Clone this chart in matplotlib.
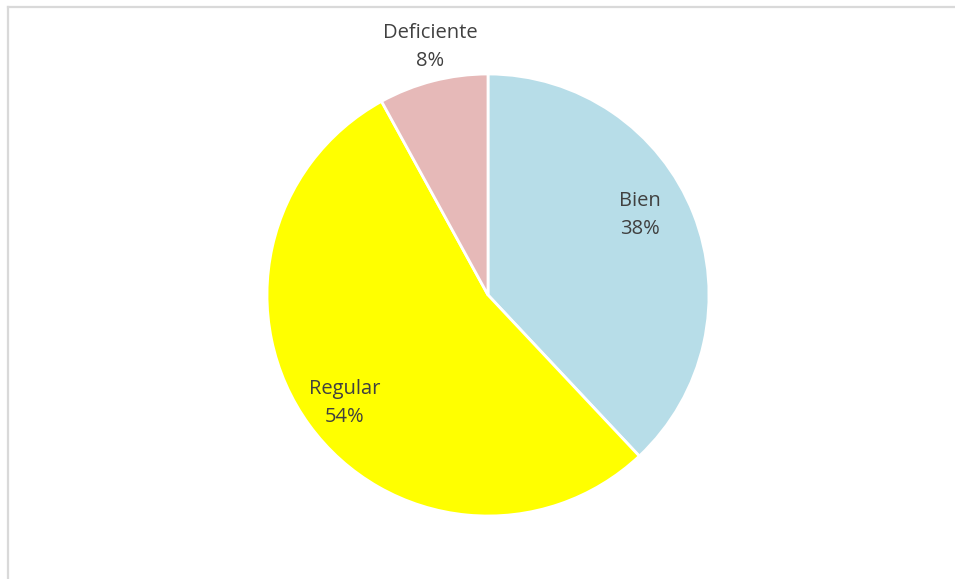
import matplotlib
matplotlib.use("Agg")
import matplotlib.pyplot as plt
from matplotlib.lines import Line2D

categories = ["Bien", "Regular", "Deficiente"]
values = [38, 54, 8]
colors = ["#b7dde8", "#ffff00", "#e6b9b8"]

W, H = 955, 579
fig = plt.figure(figsize=(W / 100, H / 100), dpi=100)
ax = fig.add_axes([0, 0, 1, 1])

cx, cy, r = 488, H - 295, 221
ax.pie(values, colors=colors, startangle=90, counterclock=False,
       center=(cx, cy), radius=r, frame=True,
       wedgeprops=dict(edgecolor="white", linewidth=2))
ax.set_xlim(0, W)
ax.set_ylim(0, H)
ax.set_aspect("equal")
ax.axis("off")

# data labels: category name and percentage
label_pos = {"Bien": (640, 215), "Regular": (345, 403), "Deficiente": (430, 47)}
for cat, val in zip(categories, values):
    x, y = label_pos[cat]
    ax.text(x, H - y, f"{cat}\n{val}%", ha="center", va="center",
            fontsize=14.5, color="#404040", family="Open Sans",
            linespacing=1.55)

# chart-area border (left and top edges)
border = "#d9d9d9"
fig.add_artist(Line2D([8 / W, 8 / W], [0, 1 - 7 / H], color=border, lw=1.6,
                      transform=fig.transFigure))
fig.add_artist(Line2D([8 / W, 1], [1 - 7 / H, 1 - 7 / H], color=border, lw=1.6,
                      transform=fig.transFigure))

fig.savefig("out.png", dpi=100, facecolor="white")
